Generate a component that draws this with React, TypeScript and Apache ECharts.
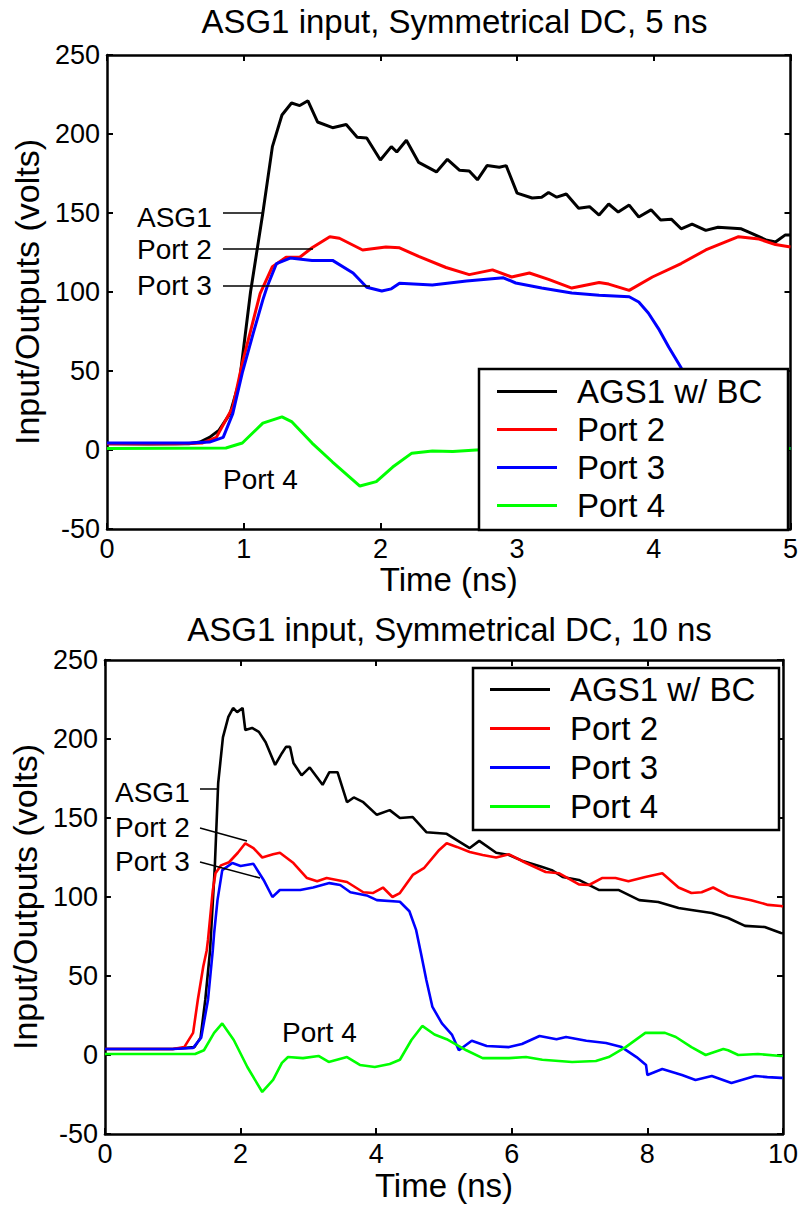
import React, { useEffect, useRef } from "react";
import * as echarts from "echarts";

// ---------- data : top chart (0..5 ns) ----------
const t5Asg1: number[][] = [
  [0, 4], [0.3, 3.8], [0.6, 4], [0.68, 5], [0.75, 8], [0.82, 12.6], [0.9, 23], [0.97, 44], [1.0, 65],
  [1.05, 100], [1.14, 150], [1.21, 192], [1.28, 212], [1.35, 219.6], [1.41, 218], [1.47, 221],
  [1.54, 207.6], [1.65, 204], [1.75, 206], [1.83, 198], [1.9, 197.5], [2.0, 183.5], [2.08, 192],
  [2.12, 188.6], [2.19, 196], [2.28, 182], [2.41, 176], [2.49, 184], [2.58, 177], [2.65, 176.6],
  [2.71, 171], [2.78, 180], [2.87, 179], [2.92, 180], [3.0, 162.6], [3.11, 159.5], [3.18, 160],
  [3.23, 163], [3.29, 160], [3.36, 162], [3.45, 153], [3.53, 154], [3.6, 148.7], [3.67, 155.7],
  [3.74, 150.6], [3.82, 155], [3.89, 147.5], [3.98, 152], [4.05, 145.6], [4.13, 146], [4.2, 140],
  [4.28, 143], [4.38, 139], [4.47, 141], [4.64, 140], [4.72, 137], [4.82, 133], [4.89, 131.6],
  [4.96, 136], [5, 136],
];
const t5Port2: number[][] = [
  [0, 4], [0.5, 4], [0.7, 4.5], [0.8, 8], [0.92, 27], [0.99, 55], [1.07, 82], [1.12, 99], [1.21, 116],
  [1.31, 122], [1.41, 122], [1.5, 128], [1.63, 135], [1.7, 134], [1.87, 126.6], [2.04, 128.5],
  [2.14, 128], [2.28, 122.5], [2.48, 115.5], [2.65, 111], [2.82, 114], [2.96, 109.5], [3.09, 112],
  [3.23, 108], [3.4, 102.5], [3.6, 106], [3.67, 105], [3.82, 101], [3.99, 109.5], [4.2, 118],
  [4.38, 126.6], [4.62, 135], [4.77, 133.5], [4.89, 130], [5, 128.5],
];
const t5Port3: number[][] = [
  [0, 4.4], [0.6, 4.4], [0.75, 5], [0.85, 8], [0.92, 23], [0.99, 49], [1.07, 74], [1.14, 95],
  [1.17, 103], [1.24, 118], [1.34, 121.5], [1.5, 120], [1.65, 120], [1.8, 112], [1.9, 103],
  [2.01, 100.6], [2.08, 102], [2.14, 105.5], [2.38, 104.5], [2.63, 107], [2.9, 109], [2.99, 105.7],
  [3.18, 102.5], [3.4, 99.4], [3.6, 98], [3.82, 97], [3.89, 93.7], [3.96, 86.7], [4.04, 76],
  [4.11, 65], [4.2, 52], [4.3, 38], [4.4, 25], [4.5, 15], [4.6, 9], [4.8, 3], [5, 1],
];
const t5Port4: number[][] = [
  [0, 1], [0.87, 1.3], [0.99, 4.4], [1.14, 17], [1.28, 21], [1.35, 18], [1.5, 4.4], [1.65, -7.6],
  [1.85, -22.8], [1.97, -20], [2.09, -10.8], [2.23, -2], [2.38, -0.6], [2.53, -1], [2.7, 0],
  [3.0, 1], [3.5, 0.5], [4.0, 1], [4.5, 1], [5, 1],
];

// ---------- data : bottom chart (0..10 ns) ----------
const t10Asg1: number[][] = [
  [0, 3.8], [1.0, 3.8], [1.32, 5], [1.41, 11], [1.48, 35], [1.55, 66], [1.62, 119], [1.67, 172],
  [1.74, 201], [1.82, 214], [1.89, 219.6], [1.95, 217], [2.03, 219.6], [2.07, 205.7], [2.17, 207],
  [2.27, 204.5], [2.37, 198], [2.51, 183.6], [2.61, 191], [2.67, 195], [2.73, 195], [2.78, 184.8],
  [2.9, 177], [3.02, 182], [3.21, 171], [3.31, 179], [3.43, 179], [3.57, 160], [3.67, 163],
  [3.81, 160], [4.01, 152], [4.2, 155], [4.35, 150], [4.54, 150.6], [4.74, 141], [5.04, 140],
  [5.38, 131], [5.52, 135.5], [5.77, 128], [5.96, 126.6], [6.15, 123], [6.45, 119], [6.59, 117],
  [6.75, 112.7], [6.99, 110.8], [7.29, 104.4], [7.58, 104.4], [7.88, 98], [8.16, 96.8], [8.46, 93],
  [8.65, 91.8], [8.95, 89.9], [9.19, 86.7], [9.44, 81.7], [9.73, 81], [9.97, 77.2], [10, 77],
];
const t10Port2: number[][] = [
  [0, 3.8], [1.0, 3.8], [1.17, 5], [1.3, 14], [1.37, 35], [1.45, 56], [1.5, 66], [1.52, 73],
  [1.59, 104], [1.63, 115], [1.71, 120], [1.83, 122], [1.96, 128], [2.07, 134], [2.19, 131],
  [2.32, 125], [2.48, 127], [2.58, 128], [2.78, 121.5], [2.98, 112], [3.13, 110], [3.27, 112],
  [3.57, 109.5], [3.81, 103], [3.95, 102.5], [4.1, 106], [4.24, 100], [4.35, 102.5], [4.54, 114],
  [4.71, 118.5], [4.93, 129.8], [5.04, 134], [5.19, 131.7], [5.38, 128.5], [5.57, 126.6],
  [5.77, 125], [5.96, 127], [6.21, 121.5], [6.5, 115.8], [6.7, 115], [6.99, 108], [7.14, 107.6],
  [7.33, 112], [7.53, 112], [7.72, 110], [7.97, 112.7], [8.22, 115], [8.46, 106], [8.65, 102.5],
  [8.8, 103], [8.97, 106], [9.19, 101], [9.53, 98], [9.78, 95], [9.97, 94.3], [10, 94],
];
const t10Port3: number[][] = [
  [0, 3.8], [1.0, 3.8], [1.3, 4.5], [1.42, 11], [1.52, 35], [1.59, 66], [1.61, 77], [1.66, 98],
  [1.73, 117], [1.88, 121.5], [2.0, 119.6], [2.19, 121], [2.34, 110.8], [2.47, 100], [2.58, 104.4],
  [2.88, 104.4], [3.07, 106], [3.31, 108.8], [3.47, 107.6], [3.62, 103], [3.86, 101], [4.01, 98],
  [4.35, 97], [4.49, 91], [4.59, 79], [4.66, 64.6], [4.74, 47.5], [4.83, 30.4], [4.97, 20],
  [5.12, 12.7], [5.22, 3], [5.41, 9], [5.63, 5.7], [5.96, 5], [6.15, 7], [6.41, 12], [6.66, 10],
  [6.8, 11.4], [7.1, 9], [7.39, 7.6], [7.62, 5], [7.84, -1.3], [7.98, -6.3], [8.0, -12.7],
  [8.22, -8.9], [8.51, -12.7], [8.71, -15.8], [8.95, -13.3], [9.24, -17.7], [9.59, -13.3],
  [9.77, -14], [9.97, -14.5], [10, -14.5],
];
const t10Port4: number[][] = [
  [0, 0.6], [1.33, 0.6], [1.46, 3], [1.61, 14], [1.73, 20], [1.9, 9.5], [2.1, -7.6], [2.32, -23.4],
  [2.48, -15.8], [2.61, -5], [2.7, -1.3], [2.92, -2], [3.15, -0.6], [3.3, -4.4], [3.57, -1.3],
  [3.76, -6.3], [3.98, -7.6], [4.2, -5.7], [4.35, -3], [4.52, 9.5], [4.68, 18.4], [4.86, 13],
  [5.04, 10], [5.33, 3], [5.57, -2], [5.96, -2], [6.21, -1.3], [6.45, -3], [6.89, -4.4],
  [7.24, -3.8], [7.43, -1.3], [7.68, 5], [7.97, 14], [8.26, 14], [8.42, 11.4], [8.65, 5],
  [8.86, 0], [9.12, 3.8], [9.19, 3], [9.34, 0], [9.63, 0.6], [9.97, -0.6], [10, -0.5],
];

const seriesNames = ["AGS1 w/ BC", "Port 2", "Port 3", "Port 4"];
const seriesColors = ["#000000", "#ff0000", "#0000ff", "#00ff00"];
const titles = ["ASG1 input, Symmetrical DC, 5 ns", "ASG1 input, Symmetrical DC, 10 ns"];
const xNames = ["Time (ns)", "Time (ns)"];
const yName = "Input/Outputs (volts)";
const xMax = [5, 10];
const xInterval = [1, 2];
const yMin = -50;
const yMax = 250;
const yInterval = 50;

const FONT = "'Liberation Sans', Arial, Helvetica, sans-serif";

export default function App() {
  const ref = useRef<HTMLDivElement>(null);
  useEffect(() => {
    if (!ref.current) return;
    const chart = echarts.init(ref.current, undefined, { renderer: "svg" });
    const grids = [
      { left: 107, top: 55, width: 685, height: 474 },
      { left: 104, top: 660, width: 681, height: 474 },
    ];
    const axisLine = { show: true, onZero: false, lineStyle: { color: "#000", width: 2.5 } };
    const tick = { show: true, inside: true, length: 6, lineStyle: { color: "#000", width: 2 } };
    const xAxes: any[] = [];
    const yAxes: any[] = [];
    [0, 1].forEach((g) => {
      xAxes.push({
        type: "value", gridIndex: g, min: 0, max: xMax[g], interval: xInterval[g], position: "bottom",
        axisLine, axisTick: tick, splitLine: { show: false },
        axisLabel: { color: "#000", fontSize: 27, fontFamily: FONT, margin: 6 },
        name: xNames[g], nameLocation: "middle", nameGap: g === 0 ? 33 : 35,
        nameTextStyle: { color: "#000", fontSize: 33, fontFamily: FONT },
      });
      xAxes.push({
        type: "value", gridIndex: g, min: 0, max: xMax[g], interval: xInterval[g], position: "top",
        axisLine, axisTick: tick, splitLine: { show: false }, axisLabel: { show: false },
      });
      yAxes.push({
        type: "value", gridIndex: g, min: yMin, max: yMax, interval: yInterval, position: "left",
        axisLine, axisTick: tick, splitLine: { show: false },
        axisLabel: { color: "#000", fontSize: 27, fontFamily: FONT, margin: 7 },
        name: yName, nameLocation: "middle", nameGap: g === 0 ? 60 : 57,
        nameTextStyle: { color: "#000", fontSize: 34, fontFamily: FONT },
      });
      yAxes.push({
        type: "value", gridIndex: g, min: yMin, max: yMax, interval: yInterval, position: "right",
        axisLine, axisTick: tick, splitLine: { show: false }, axisLabel: { show: false },
      });
    });
    const dataSets = [
      [t5Asg1, t5Port2, t5Port3, t5Port4],
      [t10Asg1, t10Port2, t10Port3, t10Port4],
    ];
    const series: any[] = [];
    dataSets.forEach((sets, g) => {
      sets.forEach((d, i) => {
        series.push({
          type: "line", name: seriesNames[i], xAxisIndex: g * 2, yAxisIndex: g * 2, data: d,
          showSymbol: false, symbol: "none",
          lineStyle: { color: seriesColors[i], width: g === 0 ? 3 : 2.6 },
          itemStyle: { color: seriesColors[i] },
        });
      });
    });
    const legendBase = {
      orient: "vertical", icon: "rect", itemWidth: 60, itemHeight: 3, z: 30,
      data: seriesNames, selectedMode: false,
      textStyle: { color: "#000", fontSize: 33, fontFamily: FONT, lineHeight: 30, padding: [0, 0, 0, 15] },
    };
    const textEl = (x: number, y: number, t: string) => ({
      type: "text", x, y, z: 25,
      style: { text: t, fill: "#000", fontSize: 28, fontFamily: FONT, verticalAlign: "middle" },
    });
    const lineEl = (x1: number, y1: number, x2: number, y2: number) => ({
      type: "line", z: 25, shape: { x1, y1, x2, y2 }, style: { stroke: "#000", lineWidth: 1.5 },
    });
    chart.setOption({
      animation: false,
      backgroundColor: "#fff",
      title: [
        { text: titles[0], left: 449.5, top: 0, textAlign: "center",
          textStyle: { color: "#000", fontSize: 33, fontWeight: "normal", fontFamily: FONT } },
        { text: titles[1], left: 444.5, top: 608, textAlign: "center",
          textStyle: { color: "#000", fontSize: 33, fontWeight: "normal", fontFamily: FONT } },
      ],
      grid: grids,
      xAxis: xAxes,
      yAxis: yAxes,
      legend: [
        { ...legendBase, left: 479, top: 369, padding: [6, 0, 0, 18], itemGap: 5 },
        { ...legendBase, left: 473, top: 668, padding: [5, 0, 0, 17], itemGap: 6 },
      ],
      graphic: [
        { type: "rect", z: 20, shape: { x: 479, y: 369, width: 309, height: 161 },
          style: { fill: "#fff", stroke: "#000", lineWidth: 2.5 } },
        { type: "rect", z: 20, shape: { x: 473, y: 668, width: 306, height: 162 },
          style: { fill: "#fff", stroke: "#000", lineWidth: 2.5 } },
        textEl(137, 217, "ASG1"), lineEl(223, 213, 262, 213),
        textEl(137, 249, "Port 2"), lineEl(223, 249, 313, 249),
        textEl(137, 285, "Port 3"), lineEl(223, 286, 370, 286),
        textEl(223, 479, "Port 4"),
        textEl(115, 792, "ASG1"), lineEl(200, 789, 218, 789),
        textEl(115, 827, "Port 2"), lineEl(200, 828, 247, 841),
        textEl(115, 861, "Port 3"), lineEl(200, 862, 260, 878),
        textEl(282, 1032, "Port 4"),
      ],
      series,
    });
    return () => chart.dispose();
  }, []);
  return (
    <div ref={ref} style={{ position: "absolute", left: 0, top: 0, width: 801, height: 1210 }} />
  );
}
